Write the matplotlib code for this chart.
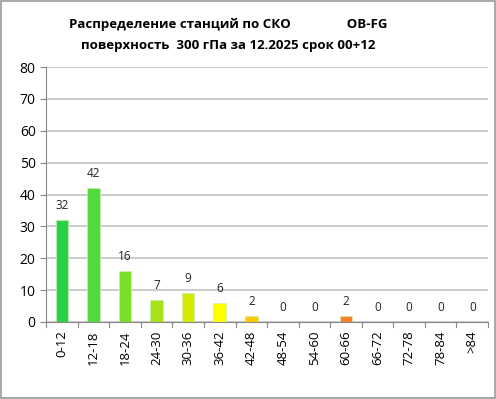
import matplotlib
matplotlib.use("Agg")
import matplotlib.pyplot as plt
from matplotlib.patches import Rectangle

plt.rcParams['font.family'] = ['Open Sans', 'DejaVu Sans']

categories = ['0-12', '12-18', '18-24', '24-30', '30-36', '36-42', '42-48',
              '48-54', '54-60', '60-66', '66-72', '72-78', '78-84', '>84']
counts = [32, 42, 16, 7, 9, 6, 2, 0, 0, 2, 0, 0, 0, 0]
colors = ['#2BCF48', '#52D93A', '#7BDF2A', '#A8E01A', '#D4E800', '#FFFF00', '#FFCA00',
          '#FFCA00', '#FFCA00', '#FF7F2A', '#FF7F2A', '#FF7F2A', '#FF7F2A', '#FF7F2A']
yticks = [0, 10, 20, 30, 40, 50, 60, 70, 80]

fig = plt.figure(figsize=(4.96, 3.99), dpi=100)
ax = fig.add_axes([0.093, 0.193, 0.891, 0.639])

x = list(range(len(categories)))
ax.bar(x, counts, width=0.4, color=colors, edgecolor='#c8f0b0', linewidth=0.5, zorder=3)
for xi, v in zip(x, counts):
    ax.text(xi, v + 2.5, str(v), ha='center', va='bottom', fontsize=8.5, color='#222222')

ax.set_xlim(-0.5, len(categories) - 0.5)
ax.set_ylim(0, 80)
ax.set_yticks(yticks)
ax.yaxis.grid(True, color='#c8c8c8', linewidth=1.3, zorder=0)
ax.set_xticks(x)
ax.set_xticklabels(categories, rotation=90, fontsize=9.5)
ax.tick_params(axis='x', length=0, pad=6)
ax.tick_params(axis='y', length=4, labelsize=10, color='#888888')
for b in [i - 0.5 for i in range(len(categories) + 1)]:
    ax.plot([b, b], [0, -0.02], transform=ax.get_xaxis_transform(), color='#888888',
            linewidth=0.8, clip_on=False)
for s in ['top', 'right']:
    ax.spines[s].set_visible(False)
ax.spines['left'].set_color('#888888')
ax.spines['bottom'].set_color('#888888')

fig.text(0.46, 0.94, 'Распределение станций по СКО                OB-FG',
         ha='center', va='center', fontsize=9.5, fontweight='bold')
fig.text(0.46, 0.887, 'поверхность  300 гПа за 12.2025 срок 00+12',
         ha='center', va='center', fontsize=9.5, fontweight='bold')

fig.patches.append(Rectangle((0.002, 0.002), 0.996, 0.996, transform=fig.transFigure,
                             fill=False, edgecolor='#999999', linewidth=1.2))

fig.savefig('out.png', dpi=100)
